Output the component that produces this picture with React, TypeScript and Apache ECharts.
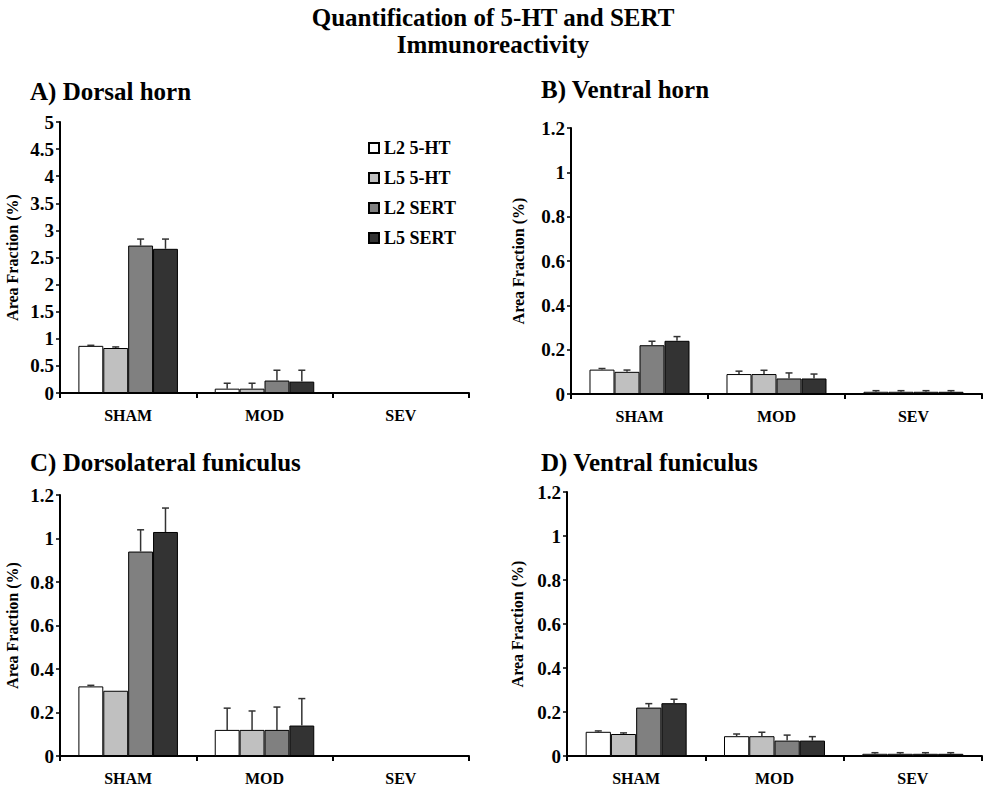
import React, { useEffect, useRef } from "react";
import * as echarts from "echarts";

const categories = ["SHAM", "MOD", "SEV"];
const seriesNames = ["L2 5-HT", "L5 5-HT", "L2 SERT", "L5 SERT"];
const barColors = ["#ffffff", "#c0c0c0", "#808080", "#333333"];

// A) Dorsal horn (rows: series, cols: categories)
const dorsalHornMean = [
  [0.87, 0.08, 0],
  [0.83, 0.08, 0],
  [2.72, 0.23, 0],
  [2.66, 0.21, 0],
];
const dorsalHornErr = [
  [0.01, 0.1, 0],
  [0.02, 0.1, 0],
  [0.12, 0.19, 0],
  [0.18, 0.21, 0],
];

// B) Ventral horn
const ventralHornMean = [
  [0.11, 0.09, 0.01],
  [0.1, 0.09, 0.01],
  [0.22, 0.07, 0.01],
  [0.24, 0.07, 0.01],
];
const ventralHornErr = [
  [0.005, 0.013, 0.005],
  [0.008, 0.017, 0.005],
  [0.018, 0.025, 0.005],
  [0.019, 0.02, 0.005],
];

// C) Dorsolateral funiculus
const dorsolateralMean = [
  [0.32, 0.12, 0],
  [0.3, 0.12, 0],
  [0.94, 0.12, 0],
  [1.03, 0.14, 0],
];
const dorsolateralErr = [
  [0.005, 0.1, 0],
  [0, 0.087, 0],
  [0.1, 0.105, 0],
  [0.11, 0.124, 0],
];

// D) Ventral funiculus
const ventralFunMean = [
  [0.11, 0.09, 0.01],
  [0.1, 0.09, 0.01],
  [0.22, 0.07, 0.01],
  [0.24, 0.07, 0.01],
];
const ventralFunErr = [
  [0.004, 0.01, 0.005],
  [0.005, 0.018, 0.005],
  [0.018, 0.025, 0.005],
  [0.018, 0.018, 0.005],
];

const FONT = "Liberation Serif";
const CAT_GAP = 0.27;

const panels = [
  {
    title: "A) Dorsal horn",
    means: dorsalHornMean,
    errs: dorsalHornErr,
    max: 5,
    interval: 0.5,
    grid: { left: 60, top: 122, width: 409, height: 271 },
    nameGap: 40,
    titlePos: { left: 30, top: 79 },
  },
  {
    title: "B) Ventral horn",
    means: ventralHornMean,
    errs: ventralHornErr,
    max: 1.2,
    interval: 0.2,
    grid: { left: 571, top: 128, width: 411, height: 266 },
    nameGap: 45,
    titlePos: { left: 541, top: 77 },
  },
  {
    title: "C) Dorsolateral funiculus",
    means: dorsolateralMean,
    errs: dorsolateralErr,
    max: 1.2,
    interval: 0.2,
    grid: { left: 60, top: 495, width: 409, height: 262 },
    nameGap: 40,
    titlePos: { left: 30, top: 450 },
  },
  {
    title: "D) Ventral funiculus",
    means: ventralFunMean,
    errs: ventralFunErr,
    max: 1.2,
    interval: 0.2,
    grid: { left: 567, top: 492, width: 415, height: 266 },
    nameGap: 42,
    titlePos: { left: 541, top: 450 },
  },
];

function buildOption() {
  const titles: any[] = [
    {
      text: "Quantification of 5-HT and SERT\nImmunoreactivity",
      left: "center",
      top: 4,
      padding: 0,
      textStyle: {
        fontFamily: FONT,
        fontWeight: "bold",
        fontSize: 25,
        lineHeight: 27,
        color: "#000",
        align: "center",
      },
    },
  ];
  const grids: any[] = [];
  const xAxes: any[] = [];
  const yAxes: any[] = [];
  const series: any[] = [];

  panels.forEach((p, gi) => {
    titles.push({
      text: p.title,
      left: p.titlePos.left,
      top: p.titlePos.top,
      padding: 0,
      textStyle: { fontFamily: FONT, fontWeight: "bold", fontSize: 25, color: "#000" },
    });
    grids.push({ ...p.grid, containLabel: false });
    xAxes.push({
      type: "category",
      gridIndex: gi,
      data: categories,
      axisLine: { show: true, lineStyle: { color: "#000", width: 2 } },
      axisTick: { show: true, length: 5, lineStyle: { color: "#000", width: 2 } },
      axisLabel: {
        margin: 14,
        fontFamily: FONT,
        fontWeight: "bold",
        fontSize: 16,
        color: "#000",
      },
      splitLine: { show: false },
    });
    yAxes.push({
      type: "value",
      gridIndex: gi,
      min: 0,
      max: p.max,
      interval: p.interval,
      name: "Area Fraction (%)",
      nameLocation: "middle",
      nameGap: p.nameGap,
      nameTextStyle: { fontFamily: FONT, fontWeight: "bold", fontSize: 16, color: "#000" },
      axisLine: { show: true, lineStyle: { color: "#000", width: 2 } },
      axisTick: { show: true, length: 4, lineStyle: { color: "#000", width: 1.5 } },
      axisLabel: {
        margin: 6,
        fontFamily: FONT,
        fontWeight: "bold",
        fontSize: 19,
        color: "#000",
      },
      splitLine: { show: false },
    });

    seriesNames.forEach((name, k) => {
      series.push({
        type: "bar",
        name,
        xAxisIndex: gi,
        yAxisIndex: gi,
        data: p.means[k],
        barGap: "0%",
        barCategoryGap: CAT_GAP * 100 + "%",
        itemStyle: { color: barColors[k], borderColor: "#000", borderWidth: 1 },
        emphasis: { disabled: true },
      });
    });

    seriesNames.forEach((name, k) => {
      series.push({
        type: "custom",
        name: "err-" + gi + "-" + k,
        xAxisIndex: gi,
        yAxisIndex: gi,
        z: 5,
        data: categories.map((c, i) => [i, p.means[k][i], p.errs[k][i]]),
        renderItem: (params: any, api: any) => {
          const xi = api.value(0);
          const v = api.value(1);
          const e = api.value(2);
          if (!(v > 0) || !(e > 0)) return null;
          const base = api.coord([xi, v]);
          const top = api.coord([xi, v + e]);
          const catW = api.size([1, 0])[0];
          const group = catW * (1 - CAT_GAP);
          const bw = group / 4;
          const cx = base[0] - group / 2 + bw * (k + 0.5);
          const st = { stroke: "#333", lineWidth: 1.5 };
          return {
            type: "group",
            children: [
              { type: "line", shape: { x1: cx, y1: base[1], x2: cx, y2: top[1] }, style: st },
              { type: "line", shape: { x1: cx - 3.5, y1: top[1], x2: cx + 3.5, y2: top[1] }, style: st },
            ],
          };
        },
      });
    });
  });

  return {
    animation: false,
    backgroundColor: "#fff",
    title: titles,
    grid: grids,
    xAxis: xAxes,
    yAxis: yAxes,
    legend: {
      data: seriesNames,
      orient: "vertical",
      left: 368,
      top: 139,
      padding: 0,
      itemWidth: 10,
      itemHeight: 10,
      itemGap: 12,
      icon: "rect",
      selectedMode: false,
      textStyle: { fontFamily: FONT, fontWeight: "bold", fontSize: 18, color: "#000" },
    },
    series,
  };
}

export default function App() {
  const ref = useRef<HTMLDivElement>(null);
  useEffect(() => {
    document.body.style.margin = "0";
    if (!ref.current) return;
    const chart = echarts.init(ref.current, null, { renderer: "svg" });
    chart.setOption(buildOption() as any);
    return () => chart.dispose();
  }, []);
  return <div ref={ref} style={{ width: 986, height: 786 }} />;
}
